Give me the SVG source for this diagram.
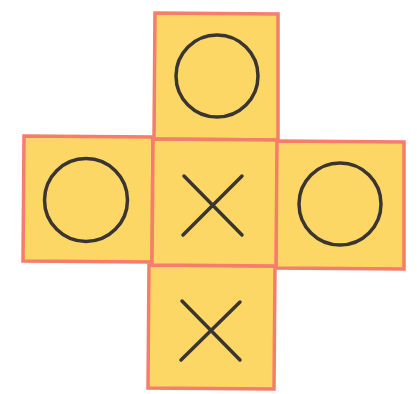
<svg xmlns="http://www.w3.org/2000/svg" width="417" height="394" viewBox="0 0 417 394">
<style>
.sq{fill:#fdd765;stroke:#f57d6c;stroke-width:3.5;stroke-linejoin:miter}
.mk{fill:none;stroke:#3b3532;stroke-width:3.5;stroke-linecap:round}
</style>
<rect width="417" height="394" fill="#ffffff"/>
<g id="top"><polygon class="sq" points="155,13 278,14 278,140 154,139"/><circle class="mk" cx="217" cy="76" r="41"/></g>
<g id="left"><polygon class="sq" points="24,136 153,137 152,262 23,261"/><circle class="mk" cx="86" cy="200" r="41.5"/></g>
<g id="right"><polygon class="sq" points="276,141 404,142 404,269 276,268"/><circle class="mk" cx="340" cy="204" r="41"/></g>
<g id="bottom"><polygon class="sq" points="149,265 275,266 274,389 148,388"/><path class="mk" d="M182,301 L240,360 M240,302 L181,360"/></g>
<g id="center"><polygon class="sq" points="153,139 277,140 276,266 152,265"/><path class="mk" d="M184,176 L242,235 M242,176 L183,235"/></g>
</svg>
